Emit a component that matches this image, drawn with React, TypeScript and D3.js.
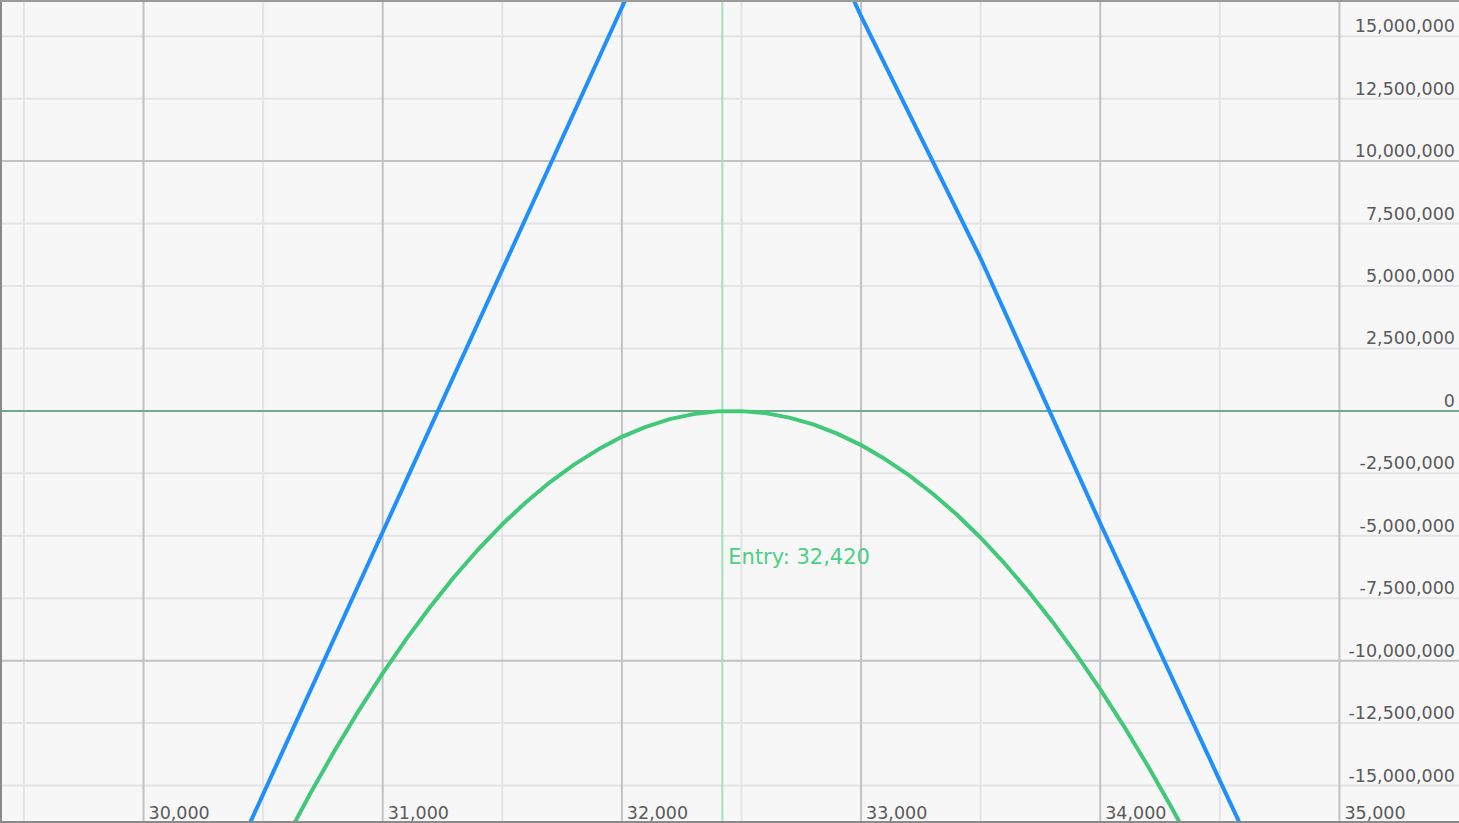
import React from "react";
import * as d3 from "d3";

const WIDTH = 1459;
const HEIGHT = 823;

// Price axis (x) and P&L axis (y)
const xDomain: [number, number] = [29400, 35500];
const yDomain: [number, number] = [-16.5e6, 16.45e6];
const xMajorTicks = [30000, 31000, 32000, 33000, 34000, 35000];
const xMinorTicks = [29500, 30500, 31500, 32500, 33500, 34500];
const yMajorTicks = [-10000000, 10000000];
const yMinorTicks = [-15000000, -12500000, -7500000, -5000000, -2500000, 2500000, 5000000, 7500000, 12500000, 15000000];
const yLabelTicks = [15000000, 12500000, 10000000, 7500000, 5000000, 2500000, 0, -2500000, -5000000, -7500000, -10000000, -12500000, -15000000];

const entryPrice = 32420;

// Expiry payoff (blue)
const expiryPrices = [30400, 31000, 31500, 32000, 32500, 33000, 33500, 34000, 34500, 34700];
const expiryPnl = [-17450000, -4850000, 5650000, 16150000, 26300000, 15800000, 6100000, -4500000, -14800000, -18900000];

// Current P&L (green)
const currentPrices = [
  30500, 30600, 30700, 30800, 30900, 31000, 31100, 31200, 31300, 31400,
  31500, 31600, 31700, 31800, 31900, 32000, 32100, 32200, 32300, 32400,
  32500, 32600, 32700, 32800, 32900, 33000, 33100, 33200, 33300, 33400,
  33500, 33600, 33700, 33800, 33900, 34000, 34100, 34200, 34300, 34400,
];
const currentPnl = [
  -18940000, -17060000, -15270000, -13590000, -12000000, -10510000, -9120000, -7830000, -6630000, -5540000,
  -4540000, -3650000, -2850000, -2150000, -1550000, -1040000, -640000, -330000, -130000, -20000,
  -10000, -90000, -270000, -540000, -910000, -1370000, -1930000, -2570000, -3320000, -4150000,
  -5080000, -6110000, -7230000, -8440000, -9750000, -11150000, -12640000, -14230000, -15910000, -17690000,
];

const fmtBase = d3.format(",");
const fmt = (v: number) => fmtBase(v).replace("\u2212", "-");

export default function App() {
  const x = d3.scaleLinear().domain(xDomain).range([0, WIDTH]);
  const y = d3.scaleLinear().domain(yDomain).range([HEIGHT, 0]);

  const line = d3
    .line<[number, number]>()
    .x((d) => x(d[0]))
    .y((d) => y(d[1]))
    .curve(d3.curveLinear);

  const expiryData = expiryPrices.map((p, i) => [p, expiryPnl[i]] as [number, number]);
  const currentData = currentPrices.map((p, i) => [p, currentPnl[i]] as [number, number]);

  const font = "'DejaVu Sans', Verdana, sans-serif";

  return (
    <svg
      width={WIDTH}
      height={HEIGHT}
      style={{ position: "fixed", left: 0, top: 0, display: "block" }}
    >
      <defs>
        <clipPath id="plot">
          <rect x={0} y={0} width={WIDTH} height={HEIGHT} />
        </clipPath>
      </defs>
      <rect x={0} y={0} width={WIDTH} height={HEIGHT} fill="#f7f7f7" />

      {/* minor grid */}
      {xMinorTicks.map((t) => (
        <line key={"xm" + t} x1={x(t)} x2={x(t)} y1={0} y2={HEIGHT} stroke="#e4e4e4" strokeWidth={2} />
      ))}
      {yMinorTicks.map((t) => (
        <line key={"ym" + t} x1={0} x2={WIDTH} y1={y(t)} y2={y(t)} stroke="#e4e4e4" strokeWidth={2} />
      ))}
      {/* major grid */}
      {xMajorTicks.map((t) => (
        <line key={"xM" + t} x1={x(t)} x2={x(t)} y1={0} y2={HEIGHT} stroke="#c2c2c2" strokeWidth={2} />
      ))}
      {yMajorTicks.map((t) => (
        <line key={"yM" + t} x1={0} x2={WIDTH} y1={y(t)} y2={y(t)} stroke="#c2c2c2" strokeWidth={2} />
      ))}

      {/* zero line */}
      <line x1={0} x2={WIDTH} y1={y(0)} y2={y(0)} stroke="#6dab8d" strokeWidth={2} />

      {/* entry line */}
      <line x1={x(entryPrice)} x2={x(entryPrice)} y1={0} y2={HEIGHT} stroke="#a3e2bb" strokeWidth={2} />

      <g clipPath="url(#plot)">
        <path d={line(currentData) || ""} fill="none" stroke="#41c979" strokeWidth={4} strokeLinejoin="round" />
        <path d={line(expiryData) || ""} fill="none" stroke="#1e8fff" strokeWidth={4} strokeLinejoin="round" />
      </g>

      {/* entry label */}
      <text
        x={x(entryPrice) + 6}
        y={y(0) + 153}
        fill="#4ccf85"
        fontFamily={font}
        fontSize={21}
      >
        {"Entry: " + fmt(entryPrice)}
      </text>

      {/* y labels */}
      {yLabelTicks.map((t) => (
        <text
          key={"yl" + t}
          x={WIDTH - 4}
          y={y(t) - 4}
          textAnchor="end"
          fill="#5a5a5a"
          fontFamily={font}
          fontSize={17.5}
        >
          {fmt(t)}
        </text>
      ))}

      {/* x labels */}
      {xMajorTicks.map((t) => (
        <text
          key={"xl" + t}
          x={x(t) + 5}
          y={HEIGHT - 4}
          fill="#5a5a5a"
          fontFamily={font}
          fontSize={17.5}
        >
          {fmt(t)}
        </text>
      ))}

      {/* frame */}
      <line x1={1} x2={1} y1={0} y2={HEIGHT} stroke="#8a8a8a" strokeWidth={2} />
      <line x1={0} x2={WIDTH} y1={1} y2={1} stroke="#9a9a9a" strokeWidth={2} />
      <line x1={0} x2={WIDTH} y1={HEIGHT - 1} y2={HEIGHT - 1} stroke="#8a8a8a" strokeWidth={2} />
    </svg>
  );
}
